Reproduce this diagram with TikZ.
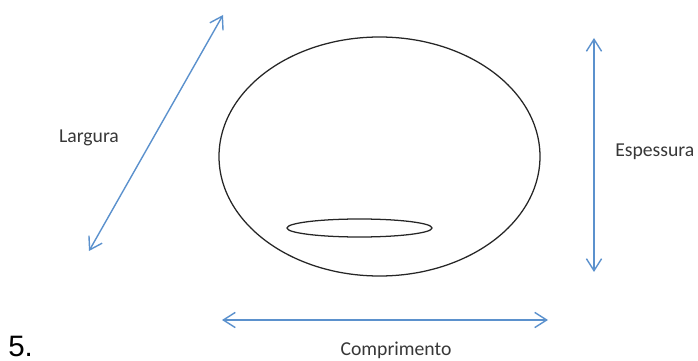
\documentclass[tikz,border=0pt]{standalone}
\usepackage{fontspec}
\setmainfont{Carlito}
\newfontfamily\numfont{Liberation Sans}
\usepackage{tikz}
\usetikzlibrary{
  arrows.meta,
  positioning
}
\definecolor{MeasureBlue}{RGB}{91,145,205}
\definecolor{LabelGray}{RGB}{55,55,55}
\tikzset{
  outline/.style={draw=black!85,line width=0.9pt},
  measure/.style={{Straight Barb[length=3mm,width=3.8mm]}-{Straight Barb[length=3mm,width=3.8mm]},line width=1pt,draw=MeasureBlue},
  dimlabel/.style={text=LabelGray,font=\fontsize{14}{16}\selectfont,inner sep=0pt}
}

\begin{document}
\begin{tikzpicture}[x=0.025cm,y=-0.025cm]
\useasboundingbox (0,0) rectangle (698,361);
% body and hole
\draw[outline] (379.5,156.5) ellipse (160.5 and 119.5);
\draw[outline] (359.5,228) ellipse (72.5 and 9);
% end points of the measures
\coordinate (wa) at (89,251);
\coordinate (wb) at (223,15);
\coordinate (ta) at (594,38);
\coordinate (tb) at (594,272);
\coordinate (la) at (222,320);
\coordinate (lb) at (548,320);
\draw[measure] (wa) -- (wb);
\draw[measure] (ta) -- (tb);
\draw[measure] (la) -- (lb);
\node[dimlabel] (largura) at (89,138) {Largura};
\node[dimlabel, anchor=west] (espessura) at (615,152) {Espessura};
\node[dimlabel] (comprimento) at (396,350) {Comprimento};
\node[font=\numfont\fontsize{21}{24}\selectfont, anchor=base west, inner sep=0pt] (num) at (8,356) {5.};
\end{tikzpicture}
\end{document}
